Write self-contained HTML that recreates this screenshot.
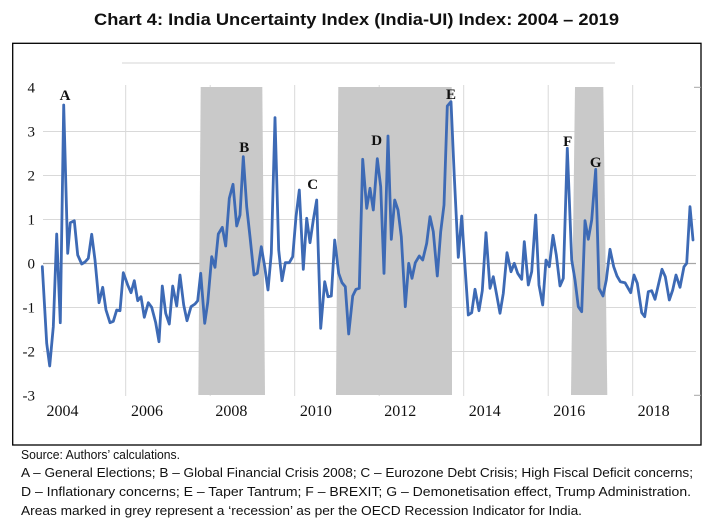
<!DOCTYPE html>
<html>
<head>
<meta charset="utf-8">
<style>
  html,body{margin:0;padding:0;background:#fff;}
  svg{display:block;}
</style>
</head>
<body>
<svg width="710" height="521" viewBox="0 0 710 521" xmlns="http://www.w3.org/2000/svg">
  <rect x="0" y="0" width="710" height="521" fill="#fff"/>
  <!-- Title -->
  <text x="94" y="25" font-family="Liberation Sans, Arial, sans-serif" font-weight="bold" font-size="17" fill="#111" textLength="525" lengthAdjust="spacingAndGlyphs">Chart 4: India Uncertainty Index (India-UI) Index: 2004 – 2019</text>

  <!-- Box -->
  <rect x="12.7" y="43.3" width="688.3" height="401.7" fill="none" stroke="#000" stroke-width="1.3"/>
  <!-- stray top line -->
  <line x1="122" y1="63" x2="615" y2="63" stroke="#e3e3e3" stroke-width="1.5"/>

  <!-- Horizontal gridlines -->
  <g stroke="#d9d9d9" stroke-width="1">
    <line x1="43" y1="131.5" x2="696" y2="131.5"/>
    <line x1="43" y1="175.5" x2="696" y2="175.5"/>
    <line x1="43" y1="219.5" x2="696" y2="219.5"/>
    <line x1="43" y1="307.5" x2="696" y2="307.5"/>
    <line x1="43" y1="351.5" x2="696" y2="351.5"/>
  </g>
  <!-- Vertical gridlines -->
  <g stroke="#d9d9d9" stroke-width="1">
    <line x1="125.7" y1="85" x2="125.7" y2="396"/>
    <line x1="210.2" y1="85" x2="210.2" y2="396"/>
    <line x1="294.7" y1="85" x2="294.7" y2="396"/>
    <line x1="379.2" y1="85" x2="379.2" y2="396"/>
    <line x1="463.7" y1="85" x2="463.7" y2="396"/>
    <line x1="548.2" y1="85" x2="548.2" y2="396"/>
    <line x1="632.7" y1="85" x2="632.7" y2="396"/>
  </g>
  <!-- zero line -->
  <line x1="43" y1="263.5" x2="696" y2="263.5" stroke="#a6a6a6" stroke-width="1.2"/>

  <!-- Recession areas -->
  <g fill="#c9c9c9">
    <polygon points="200.7,87 262.3,87 265,395 198.3,395"/>
    <polygon points="338.3,87 451.7,87 452,395 336,395"/>
    <polygon points="575,87 603.3,87 607.3,395 571,395"/>
  </g>

  <!-- right axis ticks -->
  <line x1="694" y1="87.3" x2="701" y2="87.3" stroke="#a6a6a6" stroke-width="1"/>
  <line x1="694" y1="395.3" x2="701" y2="395.3" stroke="#a6a6a6" stroke-width="1"/>

  <!-- Y labels -->
  <g font-family="Liberation Serif, Times New Roman, serif" font-size="15" fill="#111" text-anchor="end">
    <text x="35" y="92.5">4</text>
    <text x="35" y="136.5">3</text>
    <text x="35" y="180.5">2</text>
    <text x="35" y="224.5">1</text>
    <text x="35" y="268.5">0</text>
    <text x="35" y="312.5">-1</text>
    <text x="35" y="356.5">-2</text>
    <text x="35" y="400.5">-3</text>
  </g>

  <!-- X labels -->
  <g font-family="Liberation Serif, Times New Roman, serif" font-size="16" fill="#111" text-anchor="middle">
    <text x="62.5" y="416">2004</text>
    <text x="147" y="416">2006</text>
    <text x="231.4" y="416">2008</text>
    <text x="315.9" y="416">2010</text>
    <text x="400.3" y="416">2012</text>
    <text x="484.8" y="416">2014</text>
    <text x="569.2" y="416">2016</text>
    <text x="653.6" y="416">2018</text>
  </g>

  <!-- Series -->
  <polyline fill="none" stroke="#3d6ab5" stroke-width="2.8" stroke-linejoin="round" stroke-linecap="round"
    points="42.3,266.7 46.7,343.3 49.7,366 53.3,326.7 56.7,234 60.3,322.7 63.7,105 67.7,253.3 70.3,222.7 74.3,220.7 77.7,255 81.7,264 85,262 88.3,258.3 91.7,234.3 95,260 99,302.7 102.7,287.3 106,310 110,322.7 113.3,321.3 116.7,310 120,310.7 123.3,272.7 127.7,285 131,292.7 134.3,280.7 137.7,300.7 141,296.7 144.3,317.3 148.3,302.7 151.7,307.3 155.7,322.7 159,341.7 162.3,286 165.7,313.3 169.3,324 172.7,286 176.7,306 180,275 183.7,305 187,320.7 191,306.7 195,304 197.7,300.7 200.7,273.3 204.7,323.3 207.7,302.7 211.7,256.7 215,267.3 218.3,234 222.3,227.3 225.7,246 229.3,198.3 233,184.3 236.7,226 240,215 243.3,156.7 246.7,206.7 250,236.7 254,275 257.3,273.3 261.3,246.7 264.7,266.7 268,290 271.3,253.3 275,117.7 278.7,250 282,280.7 285.3,262.7 289.3,262.7 292.7,256.7 296,216.7 299.3,190 303.3,269.3 306.7,218.3 310,242.7 313.3,220 316.7,200 320.7,328.3 324.7,281.7 328,296.7 331.3,296 334.7,240 338.7,273.3 342,282.7 345.3,286.7 348.7,334 352.7,296 356,289.3 359.3,288.3 362.7,159.3 366.7,208.3 370,188.3 373.3,210 377.3,158.7 380.7,186.7 384,273.3 388,136 391.3,239.3 394.7,200 398,210 401.3,236.7 405.3,306.7 408.7,263.3 412,278.3 415.3,262.7 419.3,256 422.7,260 426.7,243.3 430,216.7 433.3,231.7 437.3,276 440.7,231.7 444,205 447.3,106 451,101.7 454.3,176.7 458.3,257.3 461.7,216 465,266.7 468.3,315 471.7,312.7 475,289.3 479,310.7 482.3,290.7 486,232.7 490,288.3 493.3,276.7 496.7,295 500,313.3 503.3,293.3 507,252.7 511,271.7 514.3,263.3 517.7,273.3 521.7,279.3 524.3,241.7 528.3,285 531.7,271.7 535.7,215 539,285 542.7,305 546,260 549.3,266.7 553,235.3 556.3,255 560,286 563.3,278.3 567.3,148.3 571.7,260 575,280 578.3,306.7 581.7,311.7 585,220.7 588.3,239.3 591.7,220 595.7,169.3 599,288.3 603,296 606.3,280 610,249.3 613.7,266.7 617,276 620.3,281.7 625,282.7 630.7,292.7 634,275 637.3,283.3 641.7,312.7 644.7,316.7 648.3,291.7 651.7,290.7 655,299.3 662,269.3 665.3,276.7 669.3,300 672.7,290 676,275 680,287.3 684,266.7 686.7,263.3 690,206.7 693,240"/>

  <!-- Annotations -->
  <g font-family="Liberation Serif, Times New Roman, serif" font-weight="bold" font-size="15" fill="#111" text-anchor="middle">
    <text x="65" y="100">A</text>
    <text x="244.3" y="152">B</text>
    <text x="312.7" y="189">C</text>
    <text x="376.7" y="145">D</text>
    <text x="451" y="99">E</text>
    <text x="567.7" y="146">F</text>
    <text x="595.7" y="167">G</text>
  </g>

  <!-- Footer -->
  <g font-family="Liberation Sans, Arial, sans-serif" font-size="13" fill="#111">
    <text x="21" y="459" textLength="159" lengthAdjust="spacingAndGlyphs">Source: Authors’ calculations.</text>
    <text x="21" y="477" textLength="672" lengthAdjust="spacingAndGlyphs">A – General Elections; B – Global Financial Crisis 2008; C – Eurozone Debt Crisis; High Fiscal Deficit concerns;</text>
    <text x="21" y="496" textLength="670" lengthAdjust="spacingAndGlyphs">D – Inflationary concerns; E – Taper Tantrum; F – BREXIT; G – Demonetisation effect, Trump Administration.</text>
    <text x="21" y="515" textLength="561" lengthAdjust="spacingAndGlyphs">Areas marked in grey represent a ‘recession’ as per the OECD Recession Indicator for India.</text>
  </g>
</svg>
</body>
</html>
